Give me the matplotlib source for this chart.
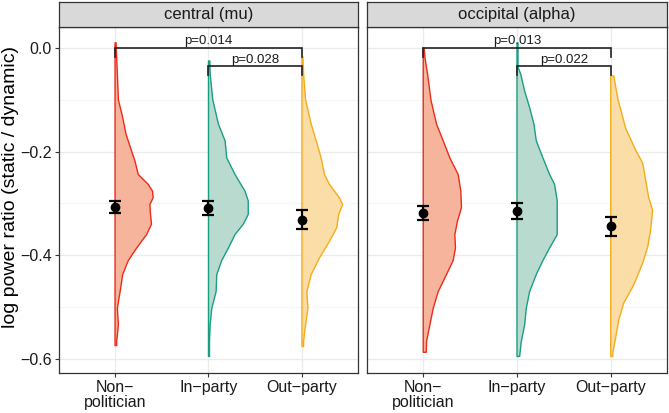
import numpy as np
import matplotlib
matplotlib.use('Agg')
import matplotlib.pyplot as plt
from matplotlib.ticker import MultipleLocator

plt.rcParams['font.family'] = ['Liberation Sans', 'DejaVu Sans']

# ---- data ----
groups = ['Non\u2212\npolitician', 'In\u2212party', 'Out\u2212party']
panels = ['central (mu)', 'occipital (alpha)']

# half-violin outlines: value (y) and relative density (width)
central_nonpol_y = [0.01, -0.05, -0.10, -0.134, -0.166, -0.199, -0.218, -0.244, -0.263, -0.276,
                    -0.289, -0.302, -0.321, -0.34, -0.36, -0.386, -0.41, -0.437, -0.463, -0.502,
                    -0.534, -0.566, -0.574]
central_nonpol_d = [3, 7, 10, 23, 33, 50, 60, 70, 100, 113, 115, 105, 107, 110, 95, 65, 40, 23, 17,
                    7, 10, 5, 5]
central_inparty_y = [-0.025, -0.05, -0.10, -0.147, -0.179, -0.212, -0.244, -0.276, -0.295, -0.321,
                     -0.34, -0.36, -0.386, -0.41, -0.437, -0.47, -0.502, -0.534, -0.566, -0.595]
central_inparty_d = [4, 5, 13, 30, 50, 55, 80, 110, 120, 120, 105, 80, 60, 40, 25, 23, 10, 5, 3, 3]
central_outparty_y = [-0.017, -0.05, -0.10, -0.147, -0.179, -0.212, -0.244, -0.263, -0.289, -0.302,
                      -0.321, -0.347, -0.373, -0.405, -0.437, -0.47, -0.502, -0.534, -0.566, -0.576]
central_outparty_d = [3, 5, 11, 28, 43, 58, 68, 83, 113, 123, 111, 105, 83, 53, 28, 15, 18, 11, 5, 5]

occip_nonpol_y = [0.0, -0.018, -0.05, -0.10, -0.147, -0.179, -0.212, -0.244, -0.276, -0.308,
                  -0.334, -0.36, -0.386, -0.41, -0.437, -0.47, -0.502, -0.534, -0.566, -0.587]
occip_nonpol_d = [3, 5, 13, 23, 40, 60, 80, 105, 113, 115, 103, 95, 97, 90, 70, 45, 30, 20, 10, 9]
occip_inparty_y = [0.01, -0.037, -0.05, -0.083, -0.115, -0.147, -0.179, -0.212, -0.244, -0.263,
                   -0.295, -0.334, -0.36, -0.386, -0.41, -0.437, -0.47, -0.502, -0.534, -0.566, -0.595]
occip_inparty_d = [3, 3, 11, 23, 38, 51, 58, 78, 98, 113, 121, 121, 121, 98, 78, 58, 38, 28, 23, 13, 8]
occip_outparty_y = [-0.054, -0.10, -0.155, -0.197, -0.222, -0.255, -0.288, -0.313, -0.351, -0.384,
                    -0.415, -0.448, -0.461, -0.492, -0.525, -0.558, -0.589, -0.595]
occip_outparty_d = [9, 22, 45, 75, 96, 105, 114, 126, 120, 111, 96, 75, 66, 39, 24, 15, 6, 6]

central_mean = [-0.307, -0.309, -0.331]
central_se = [0.011, 0.013, 0.018]
occip_mean = [-0.318, -0.315, -0.344]
occip_se = [0.013, 0.015, 0.018]

bracket_pairs = [(1, 3), (2, 3)]
central_p = ['p=0.014', 'p=0.028']
occip_p = ['p=0.013', 'p=0.022']
bracket_y = [0.0, -0.035]

# ---- styling ----
edge_cols = ['#EE2A1B', '#1A9E82', '#F5AC17']
fill_cols = ['#F5B49B', '#B9DACF', '#FADDA7']
dens_scale = 1 / 282.0
W, H = 669, 413

violins = [
    [(central_nonpol_y, central_nonpol_d), (central_inparty_y, central_inparty_d),
     (central_outparty_y, central_outparty_d)],
    [(occip_nonpol_y, occip_nonpol_d), (occip_inparty_y, occip_inparty_d),
     (occip_outparty_y, occip_outparty_d)],
]
means = [central_mean, occip_mean]
ses = [central_se, occip_se]
pvals = [central_p, occip_p]

fig = plt.figure(figsize=(W / 100, H / 100), dpi=100)
panel_x = [(59, 358), (367, 667)]
top_px, bot_px, strip_top = 27, 373, 2

for i, (x0, x1) in enumerate(panel_x):
    ax = fig.add_axes([x0 / W, (H - bot_px) / H, (x1 - x0) / W, (bot_px - top_px) / H])
    ax.set_xlim(0.4, 3.6)
    ax.set_ylim(-0.627, 0.0405)
    ax.yaxis.set_major_locator(MultipleLocator(0.2))
    ax.yaxis.set_minor_locator(MultipleLocator(0.1))
    ax.set_xticks([1, 2, 3])
    ax.set_xticklabels(groups, fontsize=11.5, color='#1a1a1a', linespacing=1.0)
    ax.grid(which='major', color='#EBEBEB', lw=0.9, zorder=0)
    ax.grid(which='minor', axis='y', color='#F2F2F2', lw=0.6, zorder=0)
    ax.set_axisbelow(True)
    ax.tick_params(which='minor', length=0)
    ax.tick_params(which='major', length=3, width=0.8, color='#333333', labelsize=11.5,
                   labelcolor='#1a1a1a', pad=2)
    for s in ax.spines.values():
        s.set_color('#333333')
        s.set_linewidth(0.9)
    if i == 0:
        ax.set_yticks([-0.6, -0.4, -0.2, 0.0])
        ax.set_yticklabels(['\u22120.6', '\u22120.4', '\u22120.2', '0.0'])
        ax.set_ylabel('log power ratio (static / dynamic)', fontsize=14, va='center')
        # centred on panel + strip, like the facet layout
        ax.yaxis.set_label_coords(11 / W, (H - 187) / H, transform=fig.transFigure)
    else:
        ax.tick_params(axis='y', which='both', left=False, labelleft=False)

    for g, (yv, dv) in enumerate(violins[i]):
        xc = g + 1
        yv = np.array(yv)
        wv = np.array(dv) * dens_scale
        xs = np.concatenate([[xc], xc + wv, [xc]])
        ys = np.concatenate([[yv[0]], yv, [yv[-1]]])
        ax.fill(xs, ys, facecolor=fill_cols[g], edgecolor=edge_cols[g], lw=1.0, zorder=2,
                joinstyle='round')

    xg = np.arange(1, 4)
    ax.errorbar(xg, means[i], yerr=ses[i], fmt='o', color='black', ms=6,
                elinewidth=1.6, capsize=4.5, capthick=1.6, zorder=4)

    for (a, b), yb, lab in zip(bracket_pairs, bracket_y, pvals[i]):
        ax.plot([a, a, b, b], [yb - 0.017, yb, yb, yb - 0.017], color='#222222', lw=1.2,
                zorder=5, solid_joinstyle='miter')
        ax.text((a + b) / 2, yb + 0.001, lab, ha='center', va='bottom', fontsize=9.5,
                color='#1a1a1a', zorder=6)

    sax = fig.add_axes([x0 / W, (H - top_px) / H, (x1 - x0) / W, (top_px - strip_top) / H])
    sax.set_xticks([])
    sax.set_yticks([])
    sax.set_facecolor('#D9D9D9')
    for s in sax.spines.values():
        s.set_color('#333333')
        s.set_linewidth(0.9)
    sax.text(0.5, 0.5, panels[i], ha='center', va='center', fontsize=12, color='#1a1a1a',
             transform=sax.transAxes)

fig.savefig('out.png', dpi=100)
